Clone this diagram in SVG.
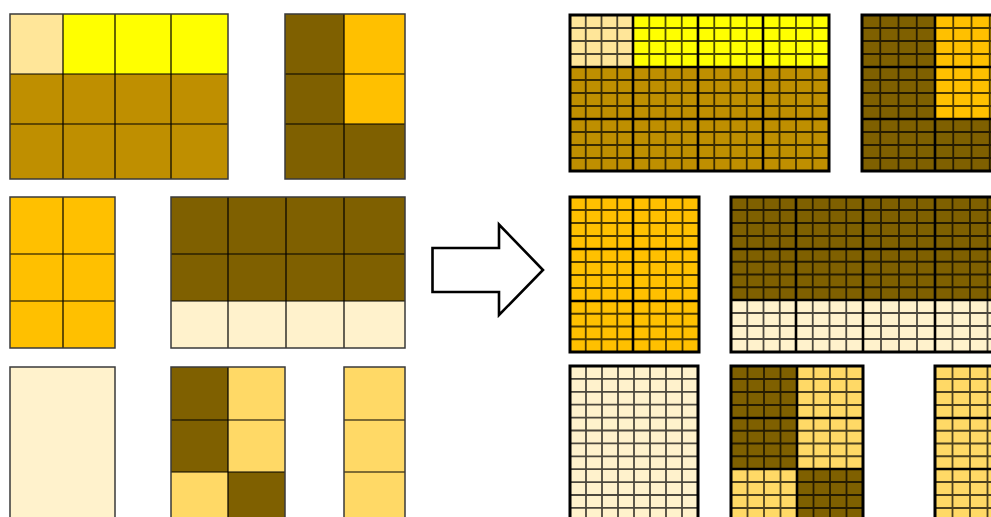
<svg xmlns="http://www.w3.org/2000/svg" width="991" height="517" viewBox="0 0 991 517">
<style>
.l{fill:none;stroke:#000;stroke-width:1.2}
.lo{fill:none;stroke:#3a3a3a;stroke-width:1.5}
.s{fill:none;stroke:#000;stroke-width:1.8;stroke-opacity:0.7}
.m{fill:none;stroke:#000;stroke-width:2.6}
.o{fill:none;stroke:#000;stroke-width:3}
.c1{fill:#FFE699}.c2{fill:#FFFF00}.c3{fill:#BF8F00}.c4{fill:#7F6000}.c5{fill:#FFC000}.c6{fill:#FFF2CC}.c7{fill:#FFD966}
</style>
<rect width="991" height="517" fill="#fff"/>
<!-- Left panels -->
<g id="left-a">
<rect class="c1" x="10" y="14" width="53" height="60"/>
<rect class="c2" x="63" y="14" width="165" height="60"/>
<rect class="c3" x="10" y="74" width="218" height="105"/>
<path class="l" d="M63 14V179M115 14V179M171 14V179M10 74H228M10 124H228"/>
<rect class="lo" x="10" y="14" width="218" height="165"/>
</g>
<g id="left-b">
<rect class="c4" x="285" y="14" width="59" height="165"/>
<rect class="c5" x="344" y="14" width="61" height="110"/>
<rect class="c4" x="344" y="124" width="61" height="55"/>
<path class="l" d="M344 14V179M285 74H405M285 124H405"/>
<rect class="lo" x="285" y="14" width="120" height="165"/>
</g>
<g id="left-c">
<rect class="c5" x="10" y="197" width="105" height="151"/>
<path class="l" d="M63 197V348M10 254H115M10 301H115"/>
<rect class="lo" x="10" y="197" width="105" height="151"/>
</g>
<g id="left-d">
<rect class="c4" x="171" y="197" width="234" height="104"/>
<rect class="c6" x="171" y="301" width="234" height="47"/>
<path class="l" d="M228 197V348M286 197V348M344 197V348M171 254H405M171 301H405"/>
<rect class="lo" x="171" y="197" width="234" height="151"/>
</g>
<g id="left-e">
<rect class="c6" x="10" y="367" width="105" height="163"/>
<rect class="lo" x="10" y="367" width="105" height="163"/>
</g>
<g id="left-f">
<rect class="c4" x="171" y="367" width="57" height="105"/>
<rect class="c7" x="228" y="367" width="57" height="105"/>
<rect class="c7" x="171" y="472" width="57" height="58"/>
<rect class="c4" x="228" y="472" width="57" height="58"/>
<path class="l" d="M228 367V530M171 420H285M171 472H285"/>
<rect class="lo" x="171" y="367" width="114" height="163"/>
</g>
<g id="left-g">
<rect class="c7" x="344" y="367" width="61" height="163"/>
<path class="l" d="M344 420H405M344 472H405"/>
<rect class="lo" x="344" y="367" width="61" height="163"/>
</g>
<!-- Arrow -->
<g id="connectors">
<polygon points="432.5,248 499,248 499,224.5 543,270 499,315 499,292 432.5,292" fill="#fff" stroke="#000" stroke-width="2.6" stroke-linejoin="miter"/>
</g>
<!-- Right panels -->
<g id="right-a">
<rect class="c1" x="570" y="15" width="63" height="52"/>
<rect class="c2" x="633" y="15" width="196" height="52"/>
<rect class="c3" x="570" y="67" width="259" height="104"/>
<path class="s" d="M585.75 15V171M601.5 15V171M617.25 15V171M649.25 15V171M665.5 15V171M681.75 15V171M714.25 15V171M730.5 15V171M746.75 15V171M779.5 15V171M796 15V171M812.5 15V171M570 28H829M570 41H829M570 54H829M570 80H829M570 93H829M570 106H829M570 132H829M570 145H829M570 158H829"/>
<path class="m" d="M633 15V171M698 15V171M763 15V171M570 67H829M570 119H829"/>
<rect class="o" x="570" y="15" width="259" height="156"/>
</g>
<g id="right-b">
<rect class="c4" x="862" y="15" width="73" height="156"/>
<rect class="c5" x="935" y="15" width="73" height="104"/>
<rect class="c4" x="935" y="119" width="73" height="52"/>
<path class="s" d="M880.25 15V171M898.5 15V171M916.75 15V171M953.25 15V171M971.5 15V171M989.75 15V171M862 28H1008M862 41H1008M862 54H1008M862 80H1008M862 93H1008M862 106H1008M862 132H1008M862 145H1008M862 158H1008"/>
<path class="m" d="M935 15V171M862 67H1008M862 119H1008"/>
<rect class="o" x="862" y="15" width="146" height="156"/>
</g>
<g id="right-c">
<rect class="c5" x="570" y="197" width="129" height="155"/>
<path class="s" d="M585.75 197V352M601.5 197V352M617.25 197V352M649.5 197V352M666 197V352M682.5 197V352M570 210H699M570 223H699M570 236H699M570 262H699M570 275H699M570 288H699M570 313.75H699M570 326.5H699M570 339.25H699"/>
<path class="m" d="M633 197V352M570 249H699M570 301H699"/>
<rect class="o" x="570" y="197" width="129" height="155"/>
</g>
<g id="right-d">
<rect class="c4" x="731" y="197" width="274" height="103"/>
<rect class="c6" x="731" y="300" width="274" height="52"/>
<path class="s" d="M747.25 197V352M763.5 197V352M779.75 197V352M812.75 197V352M829.5 197V352M846.25 197V352M881 197V352M899 197V352M917 197V352M952.5 197V352M970 197V352M987.5 197V352M731 210H1005M731 223H1005M731 236H1005M731 261.75H1005M731 274.5H1005M731 287.25H1005M731 313H1005M731 326H1005M731 339H1005"/>
<path class="m" d="M796 197V352M863 197V352M935 197V352M731 249H1005M731 300H1005"/>
<rect class="o" x="731" y="197" width="274" height="155"/>
</g>
<g id="right-e">
<rect class="c6" x="570" y="366" width="128" height="156"/>
<path class="s" d="M586 366V522M602 366V522M618 366V522M634 366V522M650 366V522M666 366V522M682 366V522M570 378.9H698M570 391.8H698M570 404.7H698M570 417.6H698M570 430.5H698M570 443.4H698M570 456.3H698M570 469.2H698M570 482.1H698M570 495H698M570 507.9H698"/>
<rect class="o" x="570" y="366" width="128" height="156"/>
</g>
<g id="right-f">
<rect class="c4" x="731" y="366" width="66" height="103"/>
<rect class="c7" x="797" y="366" width="66" height="103"/>
<rect class="c7" x="731" y="469" width="66" height="53"/>
<rect class="c4" x="797" y="469" width="66" height="53"/>
<path class="s" d="M747.5 366V522M764 366V522M780.5 366V522M813.5 366V522M830 366V522M846.5 366V522M731 379H863M731 392H863M731 405H863M731 430.75H863M731 443.5H863M731 456.25H863M731 482H863M731 495H863M731 508H863"/>
<path class="m" d="M797 366V522M731 418H863M731 469H863"/>
<rect class="o" x="731" y="366" width="132" height="156"/>
</g>
<g id="right-g">
<rect class="c7" x="935" y="366" width="70" height="156"/>
<path class="s" d="M952.5 366V522M970 366V522M987.5 366V522M935 379H1005M935 392H1005M935 405H1005M935 430.75H1005M935 443.5H1005M935 456.25H1005M935 482H1005M935 495H1005M935 508H1005"/>
<path class="m" d="M935 418H1005M935 469H1005"/>
<rect class="o" x="935" y="366" width="70" height="156"/>
</g>
</svg>
